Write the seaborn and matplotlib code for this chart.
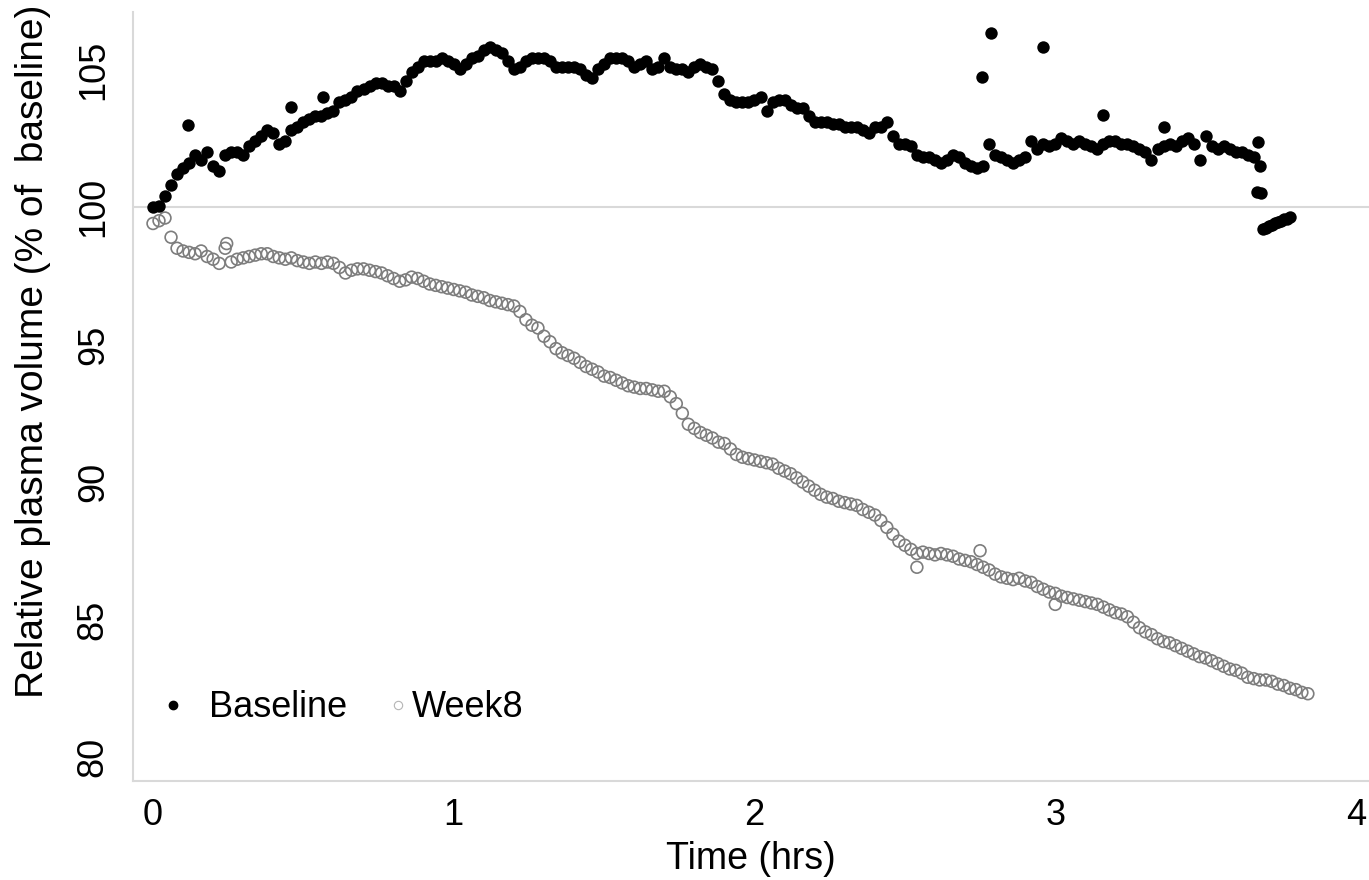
import numpy as np
import pandas as pd
import matplotlib
matplotlib.use("Agg")
import matplotlib.pyplot as plt
from matplotlib.lines import Line2D
import seaborn as sns

# ---------------- data ----------------
STEP = 0.02  # sampling step of the read-off series (hrs)

baseline_vals = [
    100.0, 100.05, 100.4, 100.8, 101.2, 101.4, 101.6, 101.9, 101.7, 102.0,
    101.5, 101.3, 101.9, 102.0, 102.0, 101.9, 102.2, 102.4, 102.6, 102.8,
    102.7, 102.3, 102.4, 102.8, 102.9, 103.1, 103.2, 103.3, 103.3, 103.4,
    103.5, 103.8, 103.9, 104.0, 104.2, 104.3, 104.4, 104.5, 104.5, 104.4,
    104.4, 104.2, 104.6, 104.9, 105.1, 105.3, 105.3, 105.3, 105.4, 105.3,
    105.2, 105.0, 105.2, 105.4, 105.5, 105.7, 105.8, 105.7, 105.6, 105.3,
    105.0, 105.1, 105.3, 105.4, 105.4, 105.4, 105.3, 105.1, 105.1, 105.1,
    105.1, 105.0, 104.8, 104.7, 105.0, 105.2, 105.4, 105.4, 105.4, 105.3,
    105.1, 105.2, 105.3, 105.0, 105.1, 105.4, 105.1, 105.0, 105.0, 104.9,
    105.1, 105.2, 105.1, 105.0, 104.6, 104.1, 103.9, 103.8, 103.8, 103.8,
    103.9, 104.0, 103.5, 103.8, 103.9, 103.9, 103.7, 103.6, 103.6, 103.3,
    103.1, 103.1, 103.1, 103.0, 103.0, 102.9, 102.9, 102.9, 102.8, 102.7,
    102.9, 102.9, 103.1, 102.6, 102.3, 102.3, 102.2, 101.9, 101.8, 101.8,
    101.7, 101.6, 101.7, 101.9, 101.8, 101.6, 101.5, 101.4, 101.5, 102.3,
    101.9, 101.8, 101.7, 101.6, 101.7, 101.8, 102.4, 102.1, 102.3, 102.2,
    102.3, 102.5, 102.4, 102.3, 102.4, 102.3, 102.2, 102.1, 102.3, 102.4,
    102.4, 102.3, 102.3, 102.2, 102.1, 102.0, 101.7, 102.1, 102.2, 102.3,
    102.2, 102.4, 102.5, 102.3, 101.7, 102.6, 102.2, 102.1, 102.2, 102.1,
    102.0, 102.0, 101.9, 101.8, 101.5,
]
# isolated / end-of-session baseline readings
baseline_extra_t = [0.116, 0.458, 0.565, 2.755, 2.785, 2.96, 3.16, 3.36,
                    3.675, 3.67, 3.683,
                    3.69, 3.70, 3.71, 3.72, 3.73, 3.74, 3.75, 3.76, 3.77, 3.78]
baseline_extra_y = [102.97, 103.63, 104.0, 104.73, 106.33, 105.8, 103.33, 102.9,
                    102.35, 100.55, 100.5,
                    99.2, 99.25, 99.3, 99.35, 99.4, 99.45, 99.5, 99.55, 99.58, 99.62]

week8_vals = [
    99.4, 99.5, 99.6, 98.9, 98.5, 98.4, 98.35, 98.3, 98.4, 98.2,
    98.1, 97.95, 98.5, 98.0, 98.1, 98.15, 98.2, 98.25, 98.3, 98.3,
    98.2, 98.15, 98.1, 98.15, 98.05, 98.0, 97.95, 98.0, 97.95, 98.0,
    97.95, 97.8, 97.6, 97.7, 97.75, 97.75, 97.7, 97.65, 97.6, 97.5,
    97.4, 97.3, 97.35, 97.45, 97.4, 97.3, 97.2, 97.15, 97.1, 97.05,
    97.0, 96.95, 96.9, 96.8, 96.75, 96.7, 96.6, 96.55, 96.5, 96.45,
    96.4, 96.2, 95.9, 95.7, 95.6, 95.3, 95.1, 94.85, 94.7, 94.6,
    94.5, 94.35, 94.2, 94.1, 94.0, 93.85, 93.8, 93.7, 93.6, 93.5,
    93.45, 93.4, 93.4, 93.35, 93.3, 93.3, 93.1, 92.85, 92.5, 92.1,
    91.95, 91.8, 91.7, 91.6, 91.45, 91.4, 91.2, 91.0, 90.9, 90.85,
    90.8, 90.75, 90.7, 90.65, 90.5, 90.4, 90.3, 90.15, 90.0, 89.85,
    89.7, 89.55, 89.45, 89.4, 89.3, 89.25, 89.2, 89.15, 89.0, 88.9,
    88.8, 88.6, 88.35, 88.1, 87.85, 87.7, 87.55, 87.4, 87.45, 87.4,
    87.35, 87.4, 87.35, 87.3, 87.2, 87.15, 87.1, 87.0, 86.9, 86.8,
    86.65, 86.55, 86.5, 86.45, 86.5, 86.4, 86.35, 86.2, 86.1, 86.0,
    85.95, 85.85, 85.8, 85.75, 85.7, 85.65, 85.6, 85.55, 85.45, 85.35,
    85.25, 85.2, 85.1, 84.9, 84.7, 84.55, 84.45, 84.3, 84.2, 84.15,
    84.05, 83.95, 83.85, 83.75, 83.65, 83.6, 83.5, 83.4, 83.3, 83.2,
    83.15, 83.05, 82.9, 82.85, 82.8, 82.8, 82.75, 82.65, 82.6, 82.5,
    82.45, 82.35, 82.3,
]
week8_extra_t = [0.245, 2.54, 2.75, 3.0]
week8_extra_y = [98.67, 86.9, 87.5, 85.55]

x_ticks = [0, 1, 2, 3, 4]
y_ticks = [80, 85, 90, 95, 100, 105]
x_label = "Time (hrs)"
y_label = "Relative plasma volume (% of  baseline)"
legend_labels = ["Baseline", "Week8"]

# ---------------- tables ----------------
base_df = pd.DataFrame({
    "t": list(np.round(np.arange(len(baseline_vals)) * STEP, 3)) + baseline_extra_t,
    "v": baseline_vals + baseline_extra_y,
})
week_df = pd.DataFrame({
    "t": list(np.round(np.arange(len(week8_vals)) * STEP, 3)) + week8_extra_t,
    "v": week8_vals + week8_extra_y,
})

# ---------------- style ----------------
sns.set_theme(style="white")
plt.rcParams["font.family"] = ["Liberation Sans", "DejaVu Sans"]
plt.rcParams["text.color"] = "black"
plt.rcParams["axes.labelcolor"] = "black"
FS = 26
GRID = "#d9d9d9"

fig = plt.figure(figsize=(13.69, 8.80), dpi=100)
ax = fig.add_axes([133 / 1369, 99 / 880, 1236 / 1369, 769 / 880])

ax.axhline(100, color=GRID, lw=1.5, zorder=0)

sns.scatterplot(data=week_df, x="t", y="v", ax=ax, marker="o", s=72,
                facecolors="none", edgecolors="#7d7d7d", linewidth=1.2,
                zorder=2, legend=False)
sns.scatterplot(data=base_df, x="t", y="v", ax=ax, marker="o", s=80,
                color="black", linewidth=0, zorder=3, legend=False)

ax.set_xlim(-20 / 301, 4 + 13 / 301)
ax.set_ylim(100 - (781 - 207) / 27.5, 100 + (207 - 12) / 27.5)
ax.set_xticks(x_ticks)
ax.set_yticks(y_ticks)
ax.set_xticklabels([str(v) for v in x_ticks])
ax.set_yticklabels([str(v) for v in y_ticks])

for side in ["top", "right"]:
    ax.spines[side].set_visible(False)
for side in ["left", "bottom"]:
    ax.spines[side].set_color(GRID)
    ax.spines[side].set_linewidth(1.5)

ax.tick_params(axis="both", which="major", direction="out", length=10,
               width=1.2, color=GRID, labelsize=FS, labelcolor="black")
ax.tick_params(axis="x", pad=2)
ax.tick_params(axis="y", pad=6, labelrotation=90)
for lbl in ax.get_yticklabels():
    lbl.set_va("center")

ax.set_xlabel(x_label, fontsize=FS + 1)
ax.xaxis.set_label_coords(0.5, -0.101)
ax.xaxis.label.set_va("center")
ax.set_ylabel(y_label, fontsize=FS + 2)
ax.yaxis.set_label_coords(-0.081, 0.559)
ax.yaxis.label.set_va("center")

h_base = Line2D([], [], ls="none", marker="o", markersize=6,
                markerfacecolor="black", markeredgecolor="black")
h_week = Line2D([], [], ls="none", marker="o", markersize=6,
                markerfacecolor="none", markeredgecolor="#b5b5b5",
                markeredgewidth=0.8)
leg1 = ax.legend([h_base], [legend_labels[0]], loc="center left",
                 bbox_to_anchor=(0.018, 0.095), frameon=False, fontsize=FS,
                 handlelength=1.0, handletextpad=0.5, borderaxespad=0,
                 borderpad=0, labelcolor="black")
ax.add_artist(leg1)
ax.legend([h_week], [legend_labels[1]], loc="center left",
          bbox_to_anchor=(0.2055, 0.095), frameon=False, fontsize=FS,
          handlelength=0.6, handletextpad=0.1, borderaxespad=0, borderpad=0,
          labelcolor="black")

fig.savefig("out.png", dpi=100, facecolor="white")
